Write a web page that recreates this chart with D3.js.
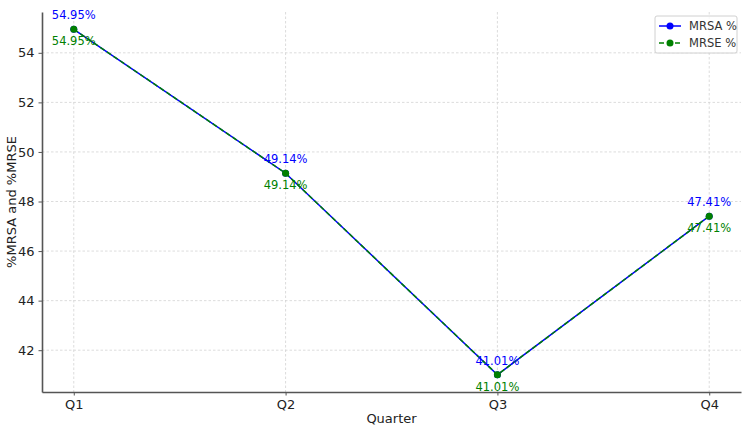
<!DOCTYPE html>
<html>
<head>
<meta charset="utf-8">
<script src="https://cdn.jsdelivr.net/npm/d3@7"></script>
<style>
  body { margin: 0; background: #fff; }
  text { font-family: "DejaVu Sans", sans-serif; }
</style>
</head>
<body>
<div id="content"></div>
<script>
// chart data
var quarters = ['Q1', 'Q2', 'Q3', 'Q4'];
var mrsa = [54.95, 49.14, 41.01, 47.41];
var mrse = [54.95, 49.14, 41.01, 47.41];
var yTicks = [42, 44, 46, 48, 50, 52, 54];

var width = 747,
    height = 433;
var margin = {left: 42, right: 6, top: 12, bottom: 41};
var plotW = width - margin.left - margin.right,
    plotH = height - margin.top - margin.bottom;

var svg = d3.select('#content').append('svg')
  .attr('width', width)
  .attr('height', height);

var g = svg.append('g')
  .attr('transform', 'translate(' + margin.left + ',' + margin.top + ')');

// x: category index with 5% margins on each side
var x = d3.scaleLinear().domain([-0.15, quarters.length - 1 + 0.15]).range([0, plotW]);

var allVals = mrsa.concat(mrse);
var lo = d3.min(allVals), hi = d3.max(allVals), pad = (hi - lo) * 0.05;
var y = d3.scaleLinear().domain([lo - pad, hi + pad]).range([plotH, 0]);

// grid
var gridColor = '#d3d3d3';
g.append('g').selectAll('line')
  .data(yTicks).enter().append('line')
  .attr('x1', 0).attr('x2', plotW)
  .attr('y1', function(d) { return y(d); })
  .attr('y2', function(d) { return y(d); })
  .attr('stroke', gridColor).attr('stroke-width', 0.8)
  .attr('stroke-dasharray', '2.5,2');
g.append('g').selectAll('line')
  .data(quarters).enter().append('line')
  .attr('y1', 0).attr('y2', plotH)
  .attr('x1', function(d, i) { return x(i); })
  .attr('x2', function(d, i) { return x(i); })
  .attr('stroke', gridColor).attr('stroke-width', 0.8)
  .attr('stroke-dasharray', '2.5,2');

// axes
var xAxis = d3.axisBottom(x).tickValues(d3.range(quarters.length))
  .tickFormat(function(d) { return quarters[d]; })
  .tickSizeInner(3.5).tickSizeOuter(0).tickPadding(4);
var yAxis = d3.axisLeft(y).tickValues(yTicks)
  .tickSizeInner(3.5).tickSizeOuter(0).tickPadding(4);

var gx = g.append('g').attr('transform', 'translate(0,' + plotH + ')').call(xAxis);
var gy = g.append('g').call(yAxis);
[gx, gy].forEach(function(ax) {
  ax.select('.domain').attr('stroke', '#555').attr('stroke-width', 1.6);
  ax.selectAll('.tick line').attr('stroke', '#555');
  ax.selectAll('.tick text').attr('fill', '#222').style('font-size', '13px');
});

// axis titles
svg.append('text')
  .attr('x', margin.left + plotW / 2).attr('y', 423)
  .attr('text-anchor', 'middle').style('font-size', '13px').attr('fill', '#222')
  .text('Quarter');
svg.append('text')
  .attr('transform', 'translate(16,' + (margin.top + plotH / 2) + ') rotate(-90)')
  .attr('text-anchor', 'middle').style('font-size', '13px').attr('fill', '#222')
  .text('%MRSA and %MRSE');

// series
var line = d3.line()
  .x(function(d, i) { return x(i); })
  .y(function(d) { return y(d); });

var series = [
  {name: 'MRSA %', values: mrsa, color: '#0000ff', dash: null, dy: -10},
  {name: 'MRSE %', values: mrse, color: '#008000', dash: '5,3', dy: 16}
];

series.forEach(function(s) {
  g.append('path').datum(s.values)
    .attr('d', line)
    .attr('fill', 'none')
    .attr('stroke', s.color)
    .attr('stroke-width', 1.5)
    .attr('stroke-dasharray', s.dash);
  g.append('g').selectAll('circle')
    .data(s.values).enter().append('circle')
    .attr('cx', function(d, i) { return x(i); })
    .attr('cy', function(d) { return y(d); })
    .attr('r', 3.5)
    .attr('fill', s.color);
});

// value labels
series.forEach(function(s) {
  g.append('g').selectAll('text')
    .data(s.values).enter().append('text')
    .attr('x', function(d, i) { return x(i); })
    .attr('y', function(d) { return y(d) + s.dy; })
    .attr('text-anchor', 'middle')
    .style('font-size', '11.5px')
    .attr('fill', s.color)
    .text(function(d) { return d.toFixed(2) + '%'; });
});

// legend
var lg = svg.append('g').attr('transform', 'translate(655,16)');
lg.append('rect')
  .attr('width', 82).attr('height', 37).attr('rx', 2)
  .attr('fill', 'rgba(255,255,255,0.8)').attr('stroke', '#d0d0d0');
series.forEach(function(s, i) {
  var yy = 10 + i * 17;
  lg.append('line')
    .attr('x1', 4).attr('x2', 26).attr('y1', yy).attr('y2', yy)
    .attr('stroke', s.color).attr('stroke-width', 1.5)
    .attr('stroke-dasharray', s.dash);
  lg.append('circle').attr('cx', 15).attr('cy', yy).attr('r', 3.5).attr('fill', s.color);
  lg.append('text').attr('x', 34).attr('y', yy + 4)
    .style('font-size', '11.5px').attr('fill', '#333')
    .text(s.name);
});
</script>
</body>
</html>
